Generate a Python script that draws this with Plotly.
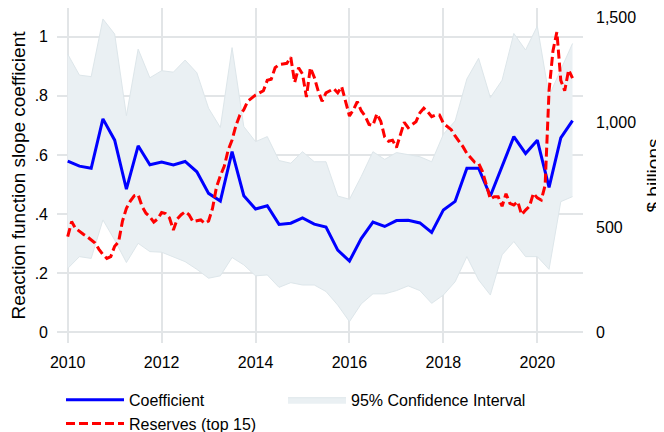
import plotly.graph_objects as go

# Quarterly coefficient series, 2010Q1 .. 2020Q4 (x as decimal year)
coef_x = [2010 + q / 4 for q in range(44)]
coef = [0.579, 0.562, 0.555, 0.722, 0.650, 0.484, 0.631, 0.567, 0.576, 0.566,
        0.578, 0.543, 0.470, 0.444, 0.611, 0.462, 0.417, 0.428, 0.365, 0.369,
        0.387, 0.366, 0.356, 0.278, 0.241, 0.317, 0.373, 0.358, 0.378, 0.379,
        0.370, 0.338, 0.414, 0.443, 0.555, 0.555, 0.461, 0.560, 0.662, 0.605,
        0.650, 0.490, 0.658, 0.716]
ci_upper = [0.941, 0.870, 0.865, 1.060, 1.009, 0.733, 0.958, 0.861, 0.885, 0.880,
            0.921, 0.878, 0.758, 0.693, 0.963, 0.696, 0.645, 0.662, 0.581, 0.572,
            0.611, 0.577, 0.577, 0.461, 0.450, 0.527, 0.611, 0.585, 0.608, 0.602,
            0.594, 0.577, 0.670, 0.715, 0.857, 0.927, 0.794, 0.853, 1.011, 0.955,
            1.036, 0.800, 0.887, 0.977]
ci_lower = [0.216, 0.256, 0.250, 0.380, 0.312, 0.236, 0.301, 0.273, 0.271, 0.256,
            0.239, 0.213, 0.183, 0.191, 0.253, 0.228, 0.191, 0.194, 0.152, 0.168,
            0.160, 0.160, 0.138, 0.092, 0.036, 0.096, 0.130, 0.130, 0.141, 0.157,
            0.141, 0.098, 0.126, 0.171, 0.256, 0.177, 0.126, 0.262, 0.307, 0.256,
            0.256, 0.213, 0.442, 0.459]

# Monthly reserves of top 15 holders ($ billions), Jan 2010 .. Oct 2020
reserves = [455, 527, 495, 479, 467, 455, 440, 425, 395, 370,
            352, 360, 410, 430, 530, 590, 625, 650, 655, 600,
            567, 550, 525, 540, 570, 565, 545, 487, 540, 560,
            574, 560, 527, 530, 535, 519, 530, 590, 690, 745,
            790, 868, 916, 985, 1035, 1060, 1100, 1115, 1130, 1140,
            1150, 1200, 1205, 1260, 1275, 1278, 1281, 1310, 1190, 1260,
            1230, 1120, 1260, 1215, 1150, 1100, 1140, 1150, 1160, 1140,
            1170, 1100, 1030, 1060, 1098, 1055, 1030, 990, 985, 1040,
            1005, 930, 910, 915, 880, 940, 1000, 975, 990, 1003,
            1045, 1067, 1050, 1027, 1035, 1035, 995, 979, 965, 935,
            912, 884, 852, 830, 810, 805, 765, 700, 635, 646,
            646, 600, 660, 614, 606, 622, 560, 582, 600, 662,
            640, 630, 700, 1150, 1340, 1430, 1200, 1150, 1249, 1210]
res_x = [2010 + m / 12 for m in range(len(reserves))]

x_ticks = [2010, 2012, 2014, 2016, 2018, 2020]
y_ticks = [0, 0.2, 0.4, 0.6, 0.8, 1]
y_tick_text = ["0", ".2", ".4", ".6", ".8", "1"]
y2_ticks = [0, 500, 1000, 1500]
y2_tick_text = ["0", "500", "1,000", "1,500"]

FONT = "Arial, Liberation Sans, Helvetica, sans-serif"
FILL = "rgb(234,240,243)"
EDGE = "rgb(221,230,234)"
GRID = "rgb(226,229,231)"

fig = go.Figure()
fig.add_trace(go.Scatter(x=coef_x, y=ci_upper, mode="lines",
                         line=dict(color=EDGE, width=1), showlegend=False,
                         hoverinfo="skip"))
fig.add_trace(go.Scatter(x=coef_x, y=ci_lower, mode="lines", fill="tonexty",
                         fillcolor=FILL, line=dict(color=EDGE, width=1),
                         name="95% Confidence Interval", legend="legend2"))
fig.add_trace(go.Scatter(x=coef_x, y=coef, mode="lines",
                         line=dict(color="rgb(0,0,255)", width=3),
                         name="Coefficient", legendrank=1))
fig.add_trace(go.Scatter(x=res_x, y=reserves, mode="lines", yaxis="y2",
                         line=dict(color="rgb(255,0,0)", width=3, dash="9px,4px"),
                         name="Reserves (top 15)", legendrank=2))

# The page body adds an 8px offset, so the figure is sized 656x424.
fig.update_layout(
    width=656, height=424,
    margin=dict(l=49, r=81, t=0, b=89, autoexpand=False),
    paper_bgcolor="white", plot_bgcolor="white",
    font=dict(family=FONT, size=16, color="black"),
    xaxis=dict(range=[2009.772, 2020.973], tickvals=x_ticks,
               showgrid=True, gridcolor=GRID, gridwidth=1.5,
               zeroline=False, showline=False, ticks="", ticklabelstandoff=8),
    yaxis=dict(range=[-0.0362, 1.0971], tickvals=y_ticks, ticktext=y_tick_text,
               showgrid=True, gridcolor=GRID, gridwidth=1.5,
               zeroline=False, showline=False, ticks="", ticklabelstandoff=8,
               title=dict(text="Reaction function slope coefficient", standoff=7)),
    yaxis2=dict(range=[-51, 1544.3], tickvals=y2_ticks, ticktext=y2_tick_text,
                overlaying="y", side="right", showgrid=False, zeroline=False,
                showline=False, ticks="", ticklabelstandoff=12,
                title=dict(text="$ billions", standoff=12)),
    legend=dict(orientation="v", x=0.0076, xanchor="left", y=-0.119, yanchor="top",
                itemwidth=58, traceorder="normal", font=dict(size=16),
                bgcolor="rgba(0,0,0,0)"),
    legend2=dict(orientation="v", x=0.4297, xanchor="left", y=-0.119, yanchor="top",
                 itemwidth=58, font=dict(size=16), bgcolor="rgba(0,0,0,0)"),
    showlegend=True,
)

fig.write_html("out.html")
